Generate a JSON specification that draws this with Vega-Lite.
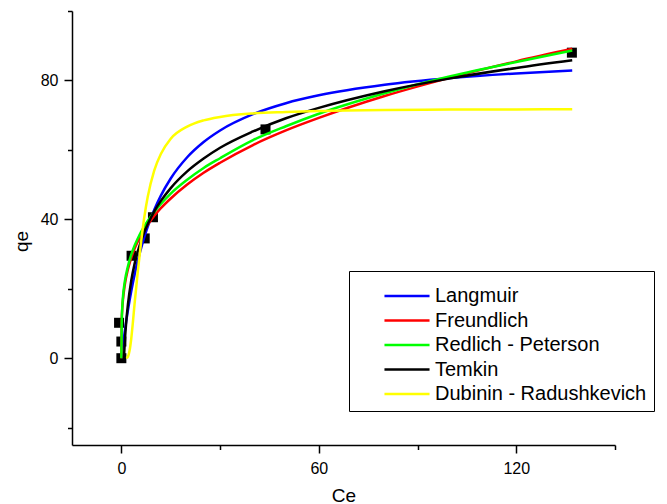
{
  "$schema": "https://vega.github.io/schema/vega-lite/v6.json",
  "width": 543,
  "height": 434,
  "autosize": {"type": "none"},
  "padding": {"left": 72, "top": 11, "right": 52, "bottom": 59},
  "background": "white",
  "config": {
    "view": {"stroke": null},
    "axis": {
      "grid": false,
      "domainColor": "black",
      "domainWidth": 1.5,
      "tickColor": "black",
      "tickWidth": 1.5,
      "labelColor": "black",
      "labelFont": "Liberation Sans",
      "labelFontSize": 16,
      "titleFont": "Liberation Sans",
      "titleFontSize": 19,
      "titleFontWeight": "normal",
      "titleColor": "black"
    },
    "legend": {
      "labelFont": "Liberation Sans",
      "labelColor": "black"
    }
  },
  "datasets": {
    "pts": [
      {"C": 0, "q": 0},
      {"C": 0, "q": 4.8},
      {"C": -0.7, "q": 10.2},
      {"C": 3.1, "q": 29.5},
      {"C": 7.1, "q": 34.5},
      {"C": 9.6, "q": 40.6},
      {"C": 43.8, "q": 65.9},
      {"C": 136.9, "q": 88.0}
    ],
    "fits": [
      {"model": "Langmuir", "C": 0, "q": 0},
      {"model": "Langmuir", "C": 0.5, "q": 3.92},
      {"model": "Langmuir", "C": 1, "q": 7.5},
      {"model": "Langmuir", "C": 2, "q": 13.84},
      {"model": "Langmuir", "C": 3, "q": 19.27},
      {"model": "Langmuir", "C": 4, "q": 23.98},
      {"model": "Langmuir", "C": 5, "q": 28.09},
      {"model": "Langmuir", "C": 6, "q": 31.71},
      {"model": "Langmuir", "C": 7, "q": 34.94},
      {"model": "Langmuir", "C": 8, "q": 37.82},
      {"model": "Langmuir", "C": 10, "q": 42.76},
      {"model": "Langmuir", "C": 12, "q": 46.84},
      {"model": "Langmuir", "C": 15, "q": 51.77},
      {"model": "Langmuir", "C": 20, "q": 57.88},
      {"model": "Langmuir", "C": 25, "q": 62.27},
      {"model": "Langmuir", "C": 30, "q": 65.6},
      {"model": "Langmuir", "C": 40, "q": 70.29},
      {"model": "Langmuir", "C": 50, "q": 73.45},
      {"model": "Langmuir", "C": 60, "q": 75.71},
      {"model": "Langmuir", "C": 80, "q": 78.74},
      {"model": "Langmuir", "C": 100, "q": 80.68},
      {"model": "Langmuir", "C": 120, "q": 82.03},
      {"model": "Langmuir", "C": 137, "q": 82.89},
      {"model": "Freundlich", "C": 0, "q": 0},
      {"model": "Freundlich", "C": 0.1, "q": 10.6},
      {"model": "Freundlich", "C": 0.3, "q": 14.7},
      {"model": "Freundlich", "C": 0.5, "q": 17.0},
      {"model": "Freundlich", "C": 1, "q": 20.9},
      {"model": "Freundlich", "C": 2, "q": 25.6},
      {"model": "Freundlich", "C": 3, "q": 28.9},
      {"model": "Freundlich", "C": 4, "q": 31.5},
      {"model": "Freundlich", "C": 5, "q": 33.6},
      {"model": "Freundlich", "C": 6, "q": 35.4},
      {"model": "Freundlich", "C": 7, "q": 37.0},
      {"model": "Freundlich", "C": 8, "q": 38.4},
      {"model": "Freundlich", "C": 10, "q": 41.0},
      {"model": "Freundlich", "C": 12, "q": 43.2},
      {"model": "Freundlich", "C": 15, "q": 46.0},
      {"model": "Freundlich", "C": 20, "q": 50.0},
      {"model": "Freundlich", "C": 25, "q": 53.4},
      {"model": "Freundlich", "C": 30, "q": 56.3},
      {"model": "Freundlich", "C": 40, "q": 61.4},
      {"model": "Freundlich", "C": 50, "q": 65.6},
      {"model": "Freundlich", "C": 60, "q": 69.2},
      {"model": "Freundlich", "C": 80, "q": 75.5},
      {"model": "Freundlich", "C": 100, "q": 80.8},
      {"model": "Freundlich", "C": 120, "q": 85.5},
      {"model": "Freundlich", "C": 137, "q": 89.1},
      {"model": "Redlich - Peterson", "C": 0, "q": 0},
      {"model": "Redlich - Peterson", "C": 0.1, "q": 10.0},
      {"model": "Redlich - Peterson", "C": 0.3, "q": 15.0},
      {"model": "Redlich - Peterson", "C": 0.5, "q": 17.8},
      {"model": "Redlich - Peterson", "C": 1, "q": 21.8},
      {"model": "Redlich - Peterson", "C": 2, "q": 26.5},
      {"model": "Redlich - Peterson", "C": 3, "q": 29.8},
      {"model": "Redlich - Peterson", "C": 4, "q": 32.4},
      {"model": "Redlich - Peterson", "C": 5, "q": 34.5},
      {"model": "Redlich - Peterson", "C": 6, "q": 36.4},
      {"model": "Redlich - Peterson", "C": 7, "q": 38.0},
      {"model": "Redlich - Peterson", "C": 8, "q": 39.5},
      {"model": "Redlich - Peterson", "C": 10, "q": 42.1},
      {"model": "Redlich - Peterson", "C": 12, "q": 44.4},
      {"model": "Redlich - Peterson", "C": 15, "q": 47.4},
      {"model": "Redlich - Peterson", "C": 20, "q": 51.4},
      {"model": "Redlich - Peterson", "C": 25, "q": 54.8},
      {"model": "Redlich - Peterson", "C": 30, "q": 57.6},
      {"model": "Redlich - Peterson", "C": 40, "q": 62.8},
      {"model": "Redlich - Peterson", "C": 50, "q": 66.8},
      {"model": "Redlich - Peterson", "C": 60, "q": 70.4},
      {"model": "Redlich - Peterson", "C": 80, "q": 76.3},
      {"model": "Redlich - Peterson", "C": 100, "q": 81.2},
      {"model": "Redlich - Peterson", "C": 120, "q": 85.3},
      {"model": "Redlich - Peterson", "C": 137, "q": 88.6},
      {"model": "Temkin", "C": 0.79, "q": 0},
      {"model": "Temkin", "C": 1, "q": 4.0},
      {"model": "Temkin", "C": 1.5, "q": 10.7},
      {"model": "Temkin", "C": 2, "q": 15.5},
      {"model": "Temkin", "C": 3, "q": 22.3},
      {"model": "Temkin", "C": 4, "q": 27.1},
      {"model": "Temkin", "C": 5, "q": 30.8},
      {"model": "Temkin", "C": 6, "q": 33.8},
      {"model": "Temkin", "C": 7, "q": 36.4},
      {"model": "Temkin", "C": 8, "q": 38.6},
      {"model": "Temkin", "C": 10, "q": 42.3},
      {"model": "Temkin", "C": 12, "q": 45.3},
      {"model": "Temkin", "C": 15, "q": 49.0},
      {"model": "Temkin", "C": 20, "q": 53.8},
      {"model": "Temkin", "C": 25, "q": 57.5},
      {"model": "Temkin", "C": 30, "q": 60.6},
      {"model": "Temkin", "C": 40, "q": 65.3},
      {"model": "Temkin", "C": 50, "q": 69.1},
      {"model": "Temkin", "C": 60, "q": 72.1},
      {"model": "Temkin", "C": 80, "q": 76.9},
      {"model": "Temkin", "C": 100, "q": 80.6},
      {"model": "Temkin", "C": 120, "q": 83.6},
      {"model": "Temkin", "C": 137, "q": 85.8},
      {"model": "Dubinin - Radushkevich", "C": 1.5, "q": 0},
      {"model": "Dubinin - Radushkevich", "C": 2, "q": 0.45},
      {"model": "Dubinin - Radushkevich", "C": 2.5, "q": 2.2},
      {"model": "Dubinin - Radushkevich", "C": 3, "q": 5.6},
      {"model": "Dubinin - Radushkevich", "C": 3.5, "q": 10.3},
      {"model": "Dubinin - Radushkevich", "C": 4, "q": 15.5},
      {"model": "Dubinin - Radushkevich", "C": 5, "q": 25.0},
      {"model": "Dubinin - Radushkevich", "C": 6, "q": 33.5},
      {"model": "Dubinin - Radushkevich", "C": 7, "q": 40.8},
      {"model": "Dubinin - Radushkevich", "C": 8, "q": 46.4},
      {"model": "Dubinin - Radushkevich", "C": 10, "q": 54.1},
      {"model": "Dubinin - Radushkevich", "C": 12, "q": 58.8},
      {"model": "Dubinin - Radushkevich", "C": 15, "q": 63.2},
      {"model": "Dubinin - Radushkevich", "C": 20, "q": 66.7},
      {"model": "Dubinin - Radushkevich", "C": 25, "q": 68.5},
      {"model": "Dubinin - Radushkevich", "C": 30, "q": 69.5},
      {"model": "Dubinin - Radushkevich", "C": 40, "q": 70.5},
      {"model": "Dubinin - Radushkevich", "C": 50, "q": 70.9},
      {"model": "Dubinin - Radushkevich", "C": 60, "q": 71.2},
      {"model": "Dubinin - Radushkevich", "C": 80, "q": 71.5},
      {"model": "Dubinin - Radushkevich", "C": 100, "q": 71.6},
      {"model": "Dubinin - Radushkevich", "C": 120, "q": 71.65},
      {"model": "Dubinin - Radushkevich", "C": 137, "q": 71.7}
    ]
  },
  "layer": [
    {
      "data": {"name": "pts"},
      "mark": {"type": "square", "size": 100, "color": "black", "opacity": 1},
      "encoding": {
        "x": {
          "field": "C", "type": "quantitative",
          "scale": {"domain": [-15, 150], "nice": false, "zero": false},
          "axis": {"orient": "bottom", "values": [0, 60, 120], "tickSize": 8, "labelPadding": 7, "title": "Ce", "titleBaseline": "alphabetic", "titleY": 56, "titleX": 271.5, "titleAlign": "center"}
        },
        "y": {
          "field": "q", "type": "quantitative",
          "scale": {"domain": [-25, 100], "nice": false, "zero": false},
          "axis": {"orient": "left", "values": [0, 40, 80], "tickSize": 8, "labelPadding": 6, "title": "qe", "titleBaseline": "alphabetic", "titleAngle": -90, "titleX": -44.5, "titleY": 230, "titleAlign": "center"}
        }
      }
    },
    {
      "data": {"name": "fits"},
      "mark": {"type": "line", "strokeWidth": 2.5, "interpolate": "monotone"},
      "encoding": {
        "x": {
          "field": "C", "type": "quantitative",
          "axis": {"orient": "bottom", "values": [30, 90, 150], "tickSize": 4.5, "labels": false, "domain": false, "title": null}
        },
        "y": {
          "field": "q", "type": "quantitative",
          "axis": {"orient": "left", "values": [-20, 20, 60, 100], "tickSize": 4.5, "labels": false, "domain": false, "title": null}
        },
        "color": {
          "field": "model", "type": "nominal",
          "scale": {
            "domain": ["Langmuir", "Freundlich", "Redlich - Peterson", "Temkin", "Dubinin - Radushkevich"],
            "range": ["#0000FF", "#FF0000", "#00FF00", "#000000", "#FFFF00"]
          },
          "legend": {
            "orient": "none",
            "legendX": 277,
            "legendY": 260,
            "title": " ",
            "titleFontSize": 6,
            "titlePadding": 2,
            "symbolType": "M-4,0H4",
            "symbolSize": 127,
            "symbolStrokeWidth": 2.5,
            "symbolOffset": 41,
            "labelOffset": 18,
            "labelFontSize": 20,
            "labelLimit": 400,
            "padding": 7,
            "rowPadding": 4.5,
            "strokeColor": "black"
          }
        }
      }
    }
  ],
  "resolve": {"axis": {"x": "independent", "y": "independent"}}
}
